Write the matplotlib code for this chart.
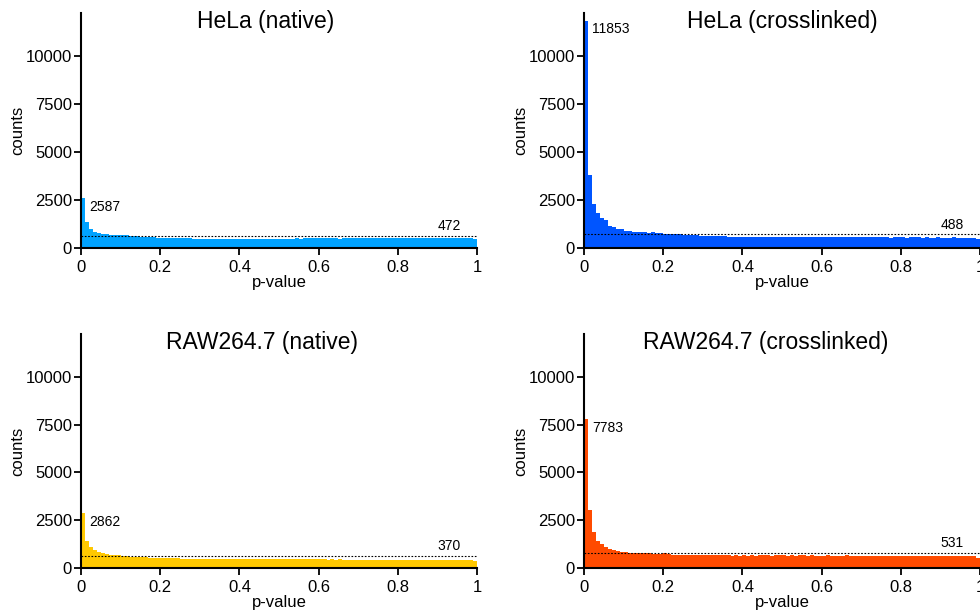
import matplotlib
matplotlib.use("Agg")
import matplotlib.pyplot as plt
import numpy as np

plt.rcParams['font.family'] = ['Liberation Sans', 'DejaVu Sans']

# p-value histogram counts, 100 bins of width 0.01 on [0, 1]
hela_native = [
    2587, 1370, 990, 840, 795, 745, 720, 700, 690, 680,
    670, 660, 640, 620, 600, 585, 570, 560, 550, 540,
    530, 525, 520, 515, 510, 505, 500, 500, 495, 490,
    490, 485, 490, 480, 485, 480, 478, 482, 476, 480,
    470, 478, 485, 475, 480, 490, 485, 480, 488, 482,
    490, 495, 485, 492, 500, 495, 505, 498, 510, 500,
    505, 498, 500, 510, 505, 495, 500, 505, 498, 510,
    505, 500, 512, 505, 498, 508, 515, 505, 500, 510,
    515, 508, 512, 505, 510, 518, 512, 520, 510, 515,
    520, 512, 518, 525, 515, 520, 510, 518, 505, 472,
]
hela_xl = [
    11853, 3810, 2270, 1820, 1540, 1450, 1170, 1120, 1010, 990,
    890, 870, 860, 855, 850, 830, 800, 810, 780, 760,
    740, 735, 725, 715, 705, 690, 680, 665, 655, 645,
    635, 625, 618, 610, 605, 600, 595, 590, 585, 580,
    578, 575, 572, 570, 568, 572, 565, 570, 566, 568,
    565, 560, 566, 558, 564, 560, 566, 558, 562, 568,
    562, 558, 564, 556, 562, 558, 552, 560, 556, 550,
    558, 552, 556, 548, 554, 560, 552, 546, 554, 550,
    552, 546, 550, 555, 548, 544, 550, 546, 540, 548,
    546, 540, 544, 548, 540, 546, 538, 544, 540, 488,
]
raw_native = [
    2862, 1430, 1120, 940, 820, 770, 715, 670, 665, 660,
    640, 620, 600, 585, 570, 560, 550, 540, 530, 525,
    520, 515, 510, 505, 500, 495, 490, 488, 485, 480,
    478, 475, 472, 470, 468, 470, 465, 468, 462, 465,
    460, 462, 458, 470, 465, 460, 455, 458, 452, 455,
    450, 455, 448, 452, 450, 445, 450, 448, 445, 450,
    445, 448, 442, 446, 440, 445, 442, 438, 444, 440,
    438, 442, 440, 436, 440, 438, 435, 440, 436, 438,
    435, 440, 436, 432, 438, 435, 430, 436, 432, 435,
    430, 434, 438, 432, 436, 440, 435, 438, 442, 370,
]
raw_xl = [
    7783, 3020, 1900, 1430, 1280, 1080, 1000, 925, 870, 840,
    820, 805, 790, 785, 775, 765, 760, 750, 745, 740,
    760, 730, 705, 700, 695, 690, 685, 680, 675, 670,
    665, 662, 660, 665, 658, 655, 660, 652, 656, 650,
    655, 650, 658, 652, 660, 675, 655, 650, 656, 660,
    655, 650, 658, 648, 655, 660, 650, 656, 645, 652,
    648, 655, 645, 650, 642, 648, 655, 645, 650, 640,
    645, 650, 642, 648, 640, 645, 652, 640, 646, 642,
    640, 648, 642, 636, 645, 640, 635, 642, 638, 640,
    636, 642, 638, 645, 640, 635, 642, 638, 630, 531,
]

titles = ['HeLa (native)', 'HeLa (crosslinked)', 'RAW264.7 (native)', 'RAW264.7 (crosslinked)']
counts = [hela_native, hela_xl, raw_native, raw_xl]
colors = ['#00a2ff', '#0055ff', '#ffc800', '#ff4b00']
# level of the dotted reference line in each panel
ref_level = [620, 710, 630, 800]
title_x = [0.465, 0.50, 0.457, 0.46]

fig = plt.figure(figsize=(9.8, 6.11), dpi=100)
W, H = 980, 611
boxes = [(81, 13, 396, 235), (584, 13, 396, 235),
         (81, 334, 396, 234), (584, 334, 396, 234)]

edges = np.arange(100) * 0.01
for i in range(4):
    x0, y0, w, h = boxes[i]
    ax = fig.add_axes([x0 / W, 1 - (y0 + h) / H, w / W, h / H])
    vals = counts[i]
    ax.bar(edges, vals, width=0.01, align='edge', color=colors[i], linewidth=0)
    ax.axhline(ref_level[i], color='black', linestyle=(0, (1.5, 1.5)), linewidth=0.8)
    ax.set_xlim(0, 1)
    ax.set_ylim(0, 12250)
    ax.set_xticks([0, 0.2, 0.4, 0.6, 0.8, 1])
    ax.set_xticklabels(['0', '0.2', '0.4', '0.6', '0.8', '1'])
    ax.set_yticks([0, 2500, 5000, 7500, 10000])
    ax.tick_params(labelsize=12, length=5, width=1.3, direction='out')
    ax.tick_params(axis='y', pad=1.5)
    for s in ['top', 'right']:
        ax.spines[s].set_visible(False)
    for s in ['left', 'bottom']:
        ax.spines[s].set_linewidth(1.5)
    ax.set_xlabel('p-value', fontsize=12, labelpad=0)
    ax.set_ylabel('counts', fontsize=12, labelpad=0)
    ax.text(title_x[i], 0.962, titles[i], transform=ax.transAxes,
            ha='center', va='center', fontsize=16.5)
    # first and last bin counts
    ax.annotate(str(vals[0]), (0.01, vals[0]), xytext=(3, -1), textcoords='offset points',
                ha='left', va='top', fontsize=10)
    ax.annotate(str(vals[-1]), (0.93, ref_level[i]), xytext=(0, 2), textcoords='offset points',
                ha='center', va='bottom', fontsize=10)

fig.savefig('out.png', dpi=100)
